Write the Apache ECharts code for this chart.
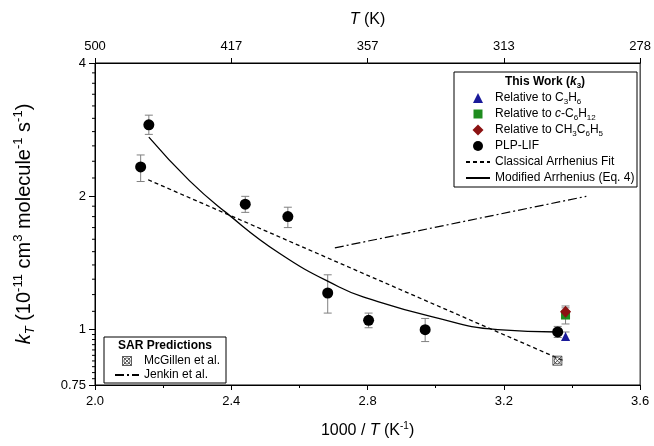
<!DOCTYPE html>
<html><head><meta charset="utf-8">
<script src="https://cdn.jsdelivr.net/npm/echarts@6/dist/echarts.min.js"></script>
<style>html,body{margin:0;padding:0;background:#fff}#c{width:654px;height:446px}</style>
</head><body><div id="c"></div>
<script>
// ---- tick labels ----
const xTicks = [2.0, 2.4, 2.8, 3.2, 3.6];
const topTickLabels = ['500', '417', '357', '313', '278'];
const yTickLabels = [0.75, 1, 2, 4];
const yMinorTicks = [0.775, 0.8, 0.825, 0.85, 0.875, 0.9, 0.925, 0.95, 0.975,
  1.1, 1.2, 1.3, 1.4, 1.5, 1.6, 1.7, 1.8, 1.9,
  2.2, 2.4, 2.6, 2.8, 3.0, 3.2, 3.4, 3.6, 3.8];

// ---- PLP-LIF data (1000/T, k, low, high) ----
const plpX    = [2.134, 2.158, 2.441, 2.566, 2.683, 2.803, 2.969, 3.358];
const plpK    = [2.33, 2.90, 1.92, 1.80, 1.21, 1.05, 1.00, 0.988];
const plpLow  = [2.16, 2.76, 1.84, 1.70, 1.09, 1.01, 0.94, 0.96];
const plpHigh = [2.48, 3.05, 2.00, 1.89, 1.33, 1.09, 1.06, 1.017];

// ---- relative-rate data at 1000/T = relX : [k, low, high] ----
const relX = 3.381;
const relPropene     = [0.965, 0.946, 0.988];
const relCyclohexane = [1.079, 1.03, 1.12];
const relToluene     = [1.098, 1.065, 1.131];

// ---- fits ----
const classicalX = [2.156, 3.380];
const classicalK = [2.18, 0.848];
const modifiedX = [2.158, 2.277, 2.384, 2.540, 2.715, 2.803, 2.988, 3.182, 3.358];
const modifiedK = [2.72, 2.17, 1.84, 1.49, 1.25, 1.175, 1.07, 1.0, 0.988];

// ---- SAR predictions ----
const jenkinX = [2.704, 3.442];
const jenkinK = [1.53, 2.0];
const mcgillenX = [3.357];
const mcgillenK = [0.851];

const FONT = "'Liberation Sans', Arial, Helvetica, sans-serif";
const zip = (xs, ys) => xs.map((x, i) => [x, ys[i]]);

const errorData = plpX.map((x, i) => [x, plpLow[i], plpHigh[i]]).concat([
  [relX, relPropene[1], relPropene[2]],
  [relX, relCyclohexane[1], relCyclohexane[2]],
  [relX, relToluene[1], relToluene[2]]
]);

const legendLabels = {
  'Relative to C3H6': 'Relative to C{sub|3}H{sub|6}',
  'Relative to c-C6H12': 'Relative to {it|c}-C{sub|6}H{sub|12}',
  'Relative to CH3C6H5': 'Relative to CH{sub|3}C{sub|6}H{sub|5}'
};

const nameRich = {
  i: { fontStyle: 'italic', fontSize: 16, color: '#000' },
  sup: { fontSize: 10, lineHeight: 10, verticalAlign: 'top', color: '#000' }
};
const yNameRich = {
  i: { fontStyle: 'italic', fontSize: 20, color: '#000' },
  isub: { fontStyle: 'italic', fontSize: 13, lineHeight: 13, verticalAlign: 'bottom', color: '#000' },
  sup: { fontSize: 13, lineHeight: 13, verticalAlign: 'top', color: '#000' }
};
// symbol shapes (path icons keep their aspect ratio in the legend)
const ICON_TRIANGLE = 'path://M0,0M11,11M5.5,0.5L10.5,10.5L0.5,10.5Z';
const ICON_SQUARE = 'path://M0,0M11,11M1,1L10,1L10,10L1,10Z';
const ICON_DIAMOND = 'path://M5.5,0L11,5.5L5.5,11L0,5.5Z';
const ICON_CIRCLE = 'path://M0,0M11,11M10.5,5.5A5,5,0,1,1,0.5,5.5A5,5,0,1,1,10.5,5.5Z';
const MCG_SYMBOL = 'path://M0,0L10,0L10,10L0,10Z M0,0L10,10 M10,0L0,10 M8.5,5A3.5,3.5,0,1,1,1.5,5A3.5,3.5,0,1,1,8.5,5Z';
const hiddenDot = { opacity: 0 };

const chart = echarts.init(document.getElementById('c'));
chart.setOption({
  animation: false,
  textStyle: { fontFamily: FONT },
  grid: { left: 95, right: 11, top: 63, bottom: 55, show: true, borderColor: '#000', borderWidth: 1 },
  xAxis: [{
    type: 'value', min: 2.0, max: 3.6, interval: 0.4, position: 'bottom',
    name: '1000 / {i|T} (K{sup|-1})', nameLocation: 'middle', nameGap: 36,
    nameTextStyle: { fontSize: 16, color: '#000', lineHeight: 20, rich: nameRich },
    axisLine: { show: true, lineStyle: { color: '#000' } },
    axisTick: { show: true, length: 5, lineStyle: { color: '#000' } },
    minorTick: { show: true, splitNumber: 2, length: 3, lineStyle: { color: '#000' } },
    axisLabel: { fontSize: 13, color: '#000', margin: 10, formatter: v => v.toFixed(1) },
    splitLine: { show: false }
  }, {
    type: 'value', min: 2.0, max: 3.6, interval: 0.4, position: 'top',
    name: '{i|T} (K)', nameLocation: 'middle', nameGap: 33,
    nameTextStyle: { fontSize: 16, color: '#000', lineHeight: 20, rich: nameRich },
    axisLine: { show: true, lineStyle: { color: '#000' } },
    axisTick: { show: true, length: 5, lineStyle: { color: '#000' } },
    axisLabel: { fontSize: 13, color: '#000', margin: 10,
      formatter: v => { const i = xTicks.findIndex(t => Math.abs(t - v) < 1e-6); return i >= 0 ? topTickLabels[i] : ''; } },
    splitLine: { show: false }
  }],
  yAxis: {
    type: 'log', logBase: 2, min: 0.75, max: 4,
    name: '{i|k}{isub|T} (10{sup|-11} cm{sup|3} molecule{sup|-1} s{sup|-1})',
    nameLocation: 'middle', nameRotate: 90, nameGap: 58,
    nameTextStyle: { fontSize: 20, color: '#000', lineHeight: 25, rich: yNameRich },
    axisLine: { show: true, lineStyle: { color: '#000' } },
    axisTick: { show: true, length: 6, lineStyle: { color: '#000' } },
    axisLabel: { fontSize: 13, color: '#000', margin: 9,
      formatter: v => { const t = yTickLabels.find(t => Math.abs(t - v) < 1e-3); return t === undefined ? '' : String(t); } },
    splitLine: { show: false }
  },
  legend: [{
    data: [
      { name: 'Relative to C3H6', icon: ICON_TRIANGLE },
      { name: 'Relative to c-C6H12', icon: ICON_SQUARE },
      { name: 'Relative to CH3C6H5', icon: ICON_DIAMOND },
      { name: 'PLP-LIF', icon: ICON_CIRCLE },
      { name: 'Classical Arrhenius Fit', itemStyle: hiddenDot },
      { name: 'Modified Arrhenius (Eq. 4)', itemStyle: hiddenDot }
    ],
    orient: 'vertical', left: 465, top: 90, padding: 0, itemGap: 0,
    itemWidth: 24, itemHeight: 11, selectedMode: false,
    textStyle: { fontSize: 12, color: '#000', lineHeight: 16,
      rich: { sub: { fontSize: 8, lineHeight: 10, verticalAlign: 'bottom', color: '#000' },
              it: { fontStyle: 'italic', fontSize: 12, color: '#000' } } },
    formatter: n => legendLabels[n] || n
  }, {
    data: [
      { name: 'McGillen et al.', icon: MCG_SYMBOL,
        itemStyle: { color: 'rgba(0,0,0,0)', borderColor: '#333', borderWidth: 0.8, opacity: 1 } },
      { name: 'Jenkin et al.', itemStyle: hiddenDot }
    ],
    orient: 'vertical', left: 114, top: 354, padding: 0, itemGap: 0,
    itemWidth: 24, itemHeight: 9, selectedMode: false,
    textStyle: { fontSize: 12, color: '#000', lineHeight: 14 }
  }],
  graphic: [
    { type: 'rect', z: 3, shape: { x: 454, y: 72, width: 183, height: 115 },
      style: { fill: '#fff', stroke: '#000', lineWidth: 1 } },
    { type: 'text', z: 4, x: 545, y: 82,
      style: { text: 'This Work ({bi|k}{bsub|3})', align: 'center', verticalAlign: 'middle',
        fontFamily: FONT, fontSize: 12, fontWeight: 'bold', fill: '#000', lineHeight: 16,
        rich: { bi: { fontStyle: 'italic', fontWeight: 'bold', fontSize: 12, fontFamily: FONT },
                bsub: { fontWeight: 'bold', fontSize: 8, lineHeight: 10, verticalAlign: 'bottom', fontFamily: FONT } } } },
    { type: 'rect', z: 3, shape: { x: 104, y: 337, width: 122, height: 46 },
      style: { fill: '#fff', stroke: '#000', lineWidth: 1 } },
    { type: 'text', z: 4, x: 165, y: 346,
      style: { text: 'SAR Predictions', align: 'center', verticalAlign: 'middle',
        fontFamily: FONT, fontSize: 12, fontWeight: 'bold', fill: '#000' } }
  ],
  series: [
    { type: 'custom', name: 'minorY', silent: true, clip: false, z: 1,
      data: yMinorTicks.map(v => [xTicks[0], v]),
      renderItem: (params, api) => {
        const p = api.coord([api.value(0), api.value(1)]);
        return { type: 'line', shape: { x1: p[0] - 3, y1: p[1], x2: p[0], y2: p[1] }, style: { stroke: '#000', lineWidth: 1 } };
      } },
    { type: 'custom', name: 'errors', silent: true, z: 2,
      data: errorData, encode: { x: 0, y: [1, 2] },
      renderItem: (params, api) => {
        const x = api.value(0);
        const a = api.coord([x, api.value(1)]), b = api.coord([x, api.value(2)]);
        const w = 4, st = { stroke: '#808080', lineWidth: 1 };
        return { type: 'group', children: [
          { type: 'line', shape: { x1: a[0], y1: a[1], x2: b[0], y2: b[1] }, style: st },
          { type: 'line', shape: { x1: a[0] - w, y1: a[1], x2: a[0] + w, y2: a[1] }, style: st },
          { type: 'line', shape: { x1: b[0] - w, y1: b[1], x2: b[0] + w, y2: b[1] }, style: st }
        ] };
      } },
    { type: 'line', name: 'Classical Arrhenius Fit', data: zip(classicalX, classicalK), symbol: 'none',
      lineStyle: { color: '#000', width: 1.3, type: [4, 3] }, itemStyle: { color: '#000' }, z: 3 },
    { type: 'line', name: 'Modified Arrhenius (Eq. 4)', data: zip(modifiedX, modifiedK), symbol: 'none',
      smooth: 0.5,
      lineStyle: { color: '#000', width: 1.3 }, itemStyle: { color: '#000' }, z: 3 },
    { type: 'line', name: 'Jenkin et al.', data: zip(jenkinX, jenkinK), symbol: 'none',
      lineStyle: { color: '#000', width: 1.2, type: [9, 3, 2, 3] }, itemStyle: { color: '#000' }, z: 3 },
    { type: 'scatter', name: 'McGillen et al.', data: zip(mcgillenX, mcgillenK), symbolSize: 9,
      symbol: MCG_SYMBOL, symbolKeepAspect: true,
      itemStyle: { color: 'rgba(0,0,0,0)', borderColor: '#333', borderWidth: 0.8, opacity: 1 }, z: 4 },
    { type: 'scatter', name: 'PLP-LIF', data: zip(plpX, plpK), symbol: 'circle', symbolSize: 11,
      itemStyle: { color: '#000', opacity: 1 }, z: 5 },
    { type: 'scatter', name: 'Relative to C3H6', data: [[relX, relPropene[0]]], symbol: 'triangle', symbolSize: 9,
      itemStyle: { color: '#1a1a9a', opacity: 1 }, z: 5 },
    { type: 'scatter', name: 'Relative to c-C6H12', data: [[relX, relCyclohexane[0]]], symbol: 'rect', symbolSize: 9,
      itemStyle: { color: '#1e8c1e', opacity: 1 }, z: 5 },
    { type: 'scatter', name: 'Relative to CH3C6H5', data: [[relX, relToluene[0]]], symbol: 'diamond', symbolSize: [11, 12],
      itemStyle: { color: '#8b1212', opacity: 1 }, z: 6 }
  ]
});
</script></body></html>
